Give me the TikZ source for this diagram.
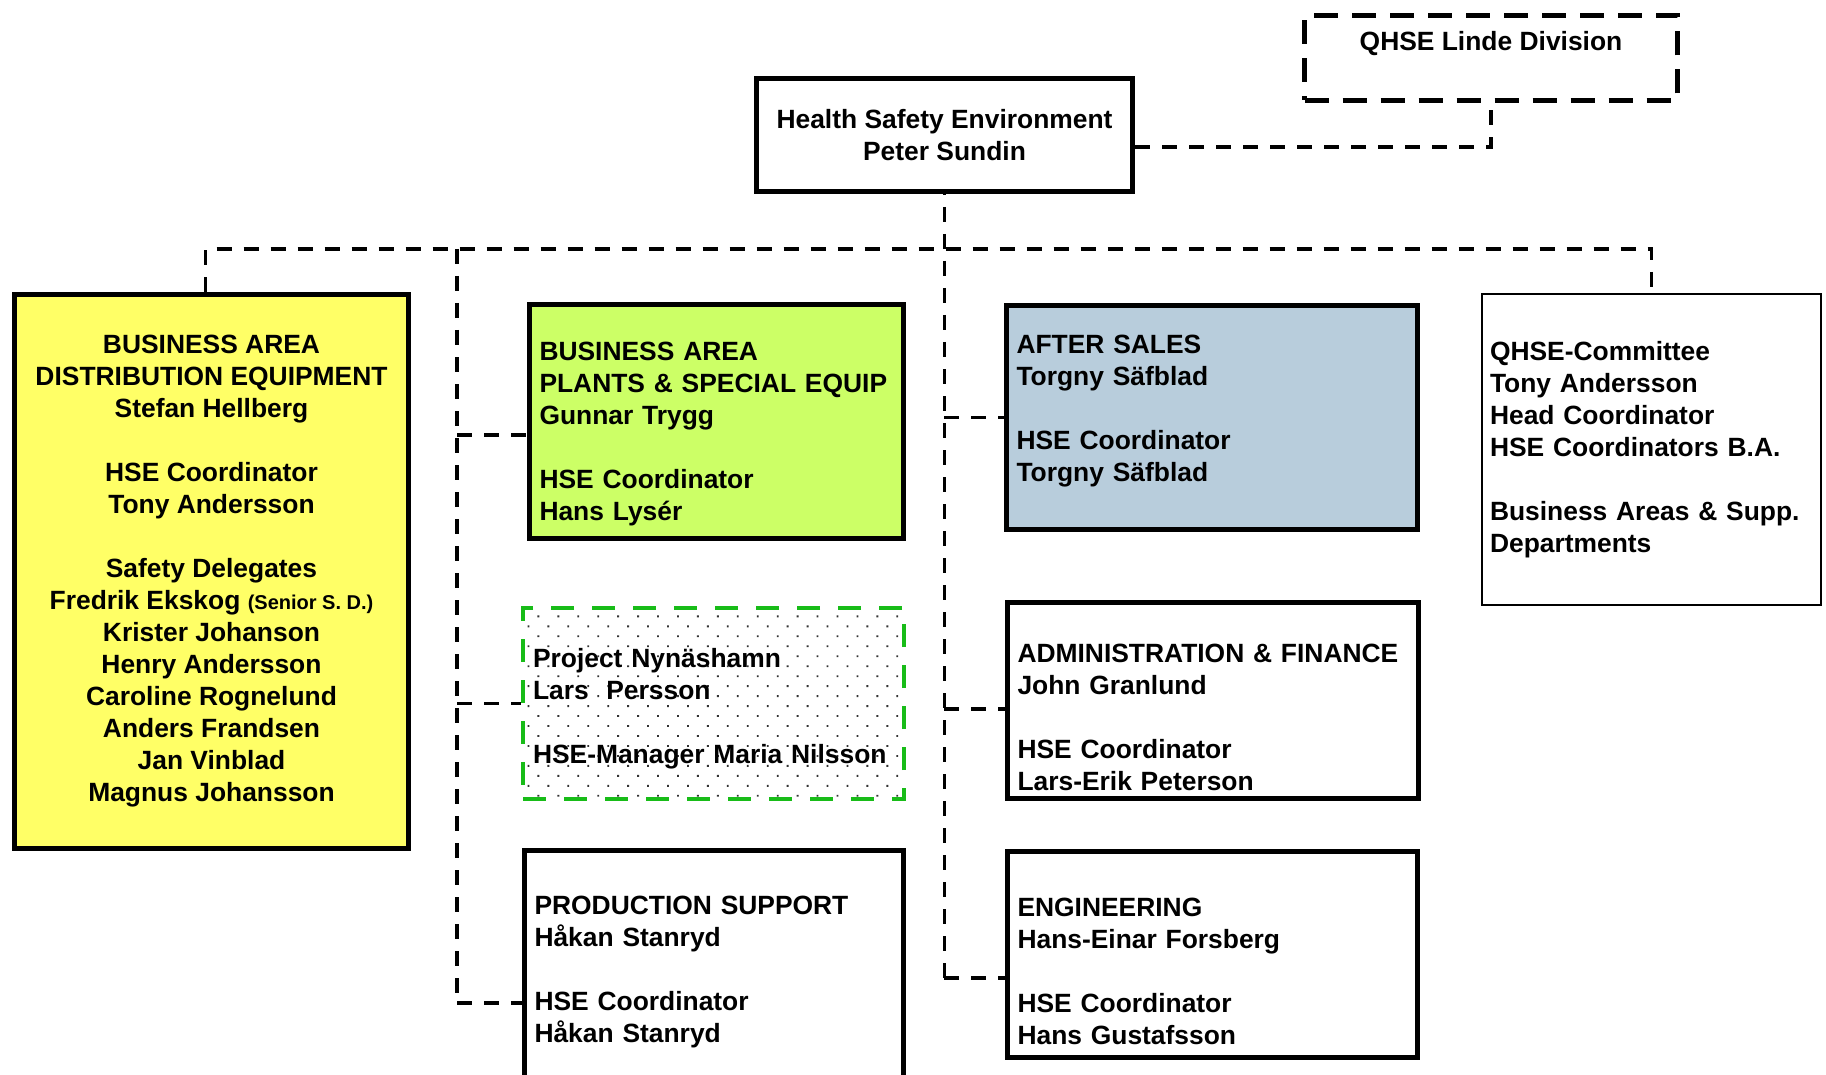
\documentclass[tikz,border=0pt]{standalone}
\usepackage{fontspec}
\setmainfont{Liberation Sans}
\usetikzlibrary{patterns.meta}

\definecolor{dayellow}{RGB}{255,255,102}
\definecolor{pselime}{RGB}{204,255,102}
\definecolor{asblue}{RGB}{184,205,220}
\definecolor{nyngreen}{RGB}{24,188,24}

\newcommand{\toppad}[1]{\rule{0pt}{#1}}
\newcommand{\botpad}[1]{\rule[-#1]{0pt}{1pt}}

\tikzset{
  orgbox/.style={draw, line width=5pt, inner xsep=10pt, inner ysep=0pt,
    font=\fontsize{26.4}{32}\selectfont\bfseries},
  link/.style={line width=3.5pt, dash pattern=on 15pt off 12pt}
}

\begin{document}
\begin{tikzpicture}[x=1pt, y=-1pt]
      \useasboundingbox (0,0) rectangle (1826,1075);
      \node [orgbox, align=center, minimum width=376, minimum height=113] (hse) at (944.5,135)
        {Health Safety Environment\\Peter Sundin};
      \node [orgbox, dash pattern=on 24pt off 14pt, align=center, minimum width=373, minimum height=85] (qhse) at (1491,58)
        {QHSE Linde Division\\[-8pt]\strut};
      \node [orgbox, fill=dayellow, align=center, minimum width=394, minimum height=554] (da) at (211.5,571.5)
        {BUSINESS AREA\\DISTRIBUTION EQUIPMENT\\Stefan Hellberg\\[32pt]
         HSE Coordinator\\Tony Andersson\\[32pt]
         Safety Delegates\\Fredrik Ekskog {\fontsize{20}{32}\selectfont(Senior S. D.)}\\
         Krister Johanson\\Henry Andersson\\Caroline Rognelund\\Anders Frandsen\\
         Jan Vinblad\\Magnus Johansson};
      \node [orgbox, fill=pselime, align=left, text width=354, minimum width=374, minimum height=234] (pse) at (716.5,421.5)
        {\toppad{44pt}BUSINESS AREA\\PLANTS \& SPECIAL EQUIP\\Gunnar Trygg\\[32pt]HSE Coordinator\\Hans Lysér};
      \node [orgbox, draw=nyngreen, line width=4pt, dash pattern=on 23pt off 18pt,
             pattern={Dots[distance=14.1pt, angle=45, radius=1.3pt]}, pattern color=black!80,
             align=left, text width=361, minimum width=381, minimum height=191] (nyn) at (713.5,703.5)
        {\toppad{30pt}Project Nynäshamn\\Lars~~Persson\\[32pt]HSE-Manager Maria Nilsson};
      \node [orgbox, align=left, text width=359, minimum width=379, minimum height=244] (ps) at (714,972)
        {PRODUCTION SUPPORT\\Håkan Stanryd\\[32pt]HSE Coordinator\\Håkan Stanryd};
      \node [orgbox, fill=asblue, align=left, text width=391, minimum width=411, minimum height=224] (as) at (1212,417.5)
        {AFTER SALES\\Torgny Säfblad\\[32pt]HSE Coordinator\\Torgny Säfblad\botpad{19pt}};
      \node [orgbox, align=left, text width=391, minimum width=411, minimum height=196] (af) at (1213,700.5)
        {\toppad{53pt}ADMINISTRATION \& FINANCE\\John Granlund\\[32pt]HSE Coordinator\\Lars-Erik Peterson};
      \node [orgbox, align=left, text width=390, minimum width=410, minimum height=206] (eng) at (1212.5,954.5)
        {\toppad{53pt}ENGINEERING\\Hans-Einar Forsberg\\[32pt]HSE Coordinator\\Hans Gustafsson};
      \node [orgbox, line width=2pt, inner xsep=8pt, align=left, text width=323, minimum width=339, minimum height=311] (qc) at (1651.5,449.5)
        {QHSE-Committee\\Tony Andersson\\Head Coordinator\\HSE Coordinators B.A.\\[32pt]Business Areas \& Supp.\\Departments};
      \coordinate (bus) at (944,249);
      \coordinate (ltrunk) at (457,249);
      \coordinate (da-up) at ([xshift=-6pt]da.north);
      \coordinate (pse-in) at ([yshift=-13.5pt]pse.west);
      \coordinate (nyn-in) at (nyn.west);
      \coordinate (ps-in) at ([yshift=-31pt]ps.west);
      \coordinate (as-in) at (as.west);
      \coordinate (af-in) at ([yshift=-8.5pt]af.west);
      \coordinate (eng-in) at ([yshift=-23.5pt]eng.west);
      \draw [link] ([yshift=-12pt]hse.east) -| (qhse.south);
      \draw [link] (da-up) |- (bus) -| (qc.north);
      \draw [link, dash phase=14pt] (hse.south) -- (hse.south |- eng-in);
      \draw [link] (ltrunk) -- (ltrunk |- ps-in);
      \foreach \n in {pse, nyn, ps}
        \draw [link] (ltrunk |- \n-in) -- (\n-in);
      \foreach \n in {as, af, eng}
        \draw [link] (bus |- \n-in) -- (\n-in);
    \end{tikzpicture}
\end{document}
